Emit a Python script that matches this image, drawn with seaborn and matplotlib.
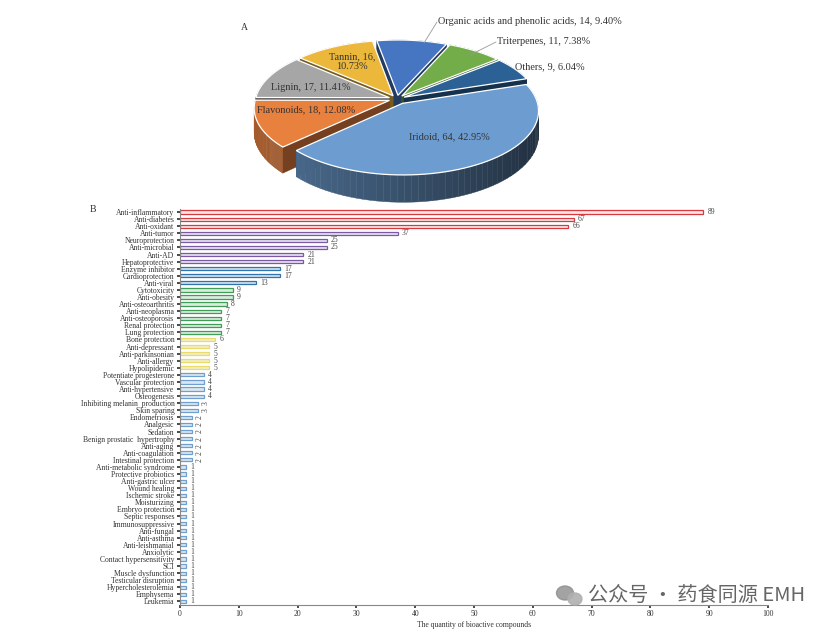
import matplotlib
import numpy as np

matplotlib.use('Agg')
import matplotlib.pyplot as plt
import seaborn as sns
from matplotlib.patches import Polygon, Ellipse

# panel A data
pie_names = ['Organic acids and phenolic acids', 'Triterpenes', 'Others', 'Iridoid',
             'Flavonoids', 'Lignin', 'Tannin']
pie_values = [14, 11, 9, 64, 18, 17, 16]
pie_pcts = [9.40, 7.38, 6.04, 42.95, 12.08, 11.41, 10.73]

# panel B data
activities = [
    'Anti-inflammatory', 'Anti-diabetes', 'Anti-oxidant', 'Anti-tumor', 'Neuroprotection',
    'Anti-microbial', 'Anti-AD', 'Hepatoprotective', 'Enzyme inhibitor', 'Cardioprotection',
    'Anti-viral', 'Cytotoxicity', 'Anti-obesity', 'Anti-osteoarthritis', 'Anti-neoplasma',
    'Anti-osteoporosis', 'Renal protection', 'Lung protection', 'Bone protection',
    'Anti-depressant', 'Anti-parkinsonian', 'Anti-allergy', 'Hypolipidemic',
    'Potentiate progesterone', 'Vascular protection', 'Anti-hypertensive', 'Osteogenesis',
    'Inhibiting melanin  production', 'Skin sparing', 'Endometriosis', 'Analgesic', 'Sedation',
    'Benign prostatic  hypertrophy', 'Anti-aging', 'Anti-coagulation', 'Intestinal protection',
    'Anti-metabolic syndrome', 'Protective probiotics', 'Anti-gastric ulcer', 'Wound healing',
    'Ischemic stroke', 'Moisturizing', 'Embryo protection', 'Septic responses',
    'Immunosuppressive', 'Anti-fungal', 'Anti-asthma', 'Anti-leishmanial', 'Anxiolytic',
    'Contact hypersensitivity', 'SCI', 'Muscle dysfunction', 'Testicular disruption',
    'Hypercholesterolemia', 'Emphysema', 'Leukemia',
]
counts = [89, 67, 66, 37, 25, 25, 21, 21, 17, 17, 13, 9, 9, 8, 7, 7, 7, 7, 6,
          5, 5, 5, 5, 4, 4, 4, 4, 3, 3, 2, 2, 2, 2, 2, 2, 2,
          1, 1, 1, 1, 1, 1, 1, 1, 1, 1, 1, 1, 1, 1, 1, 1, 1, 1, 1, 1]
x_ticks = list(range(0, 101, 10))

sns.set_theme(style='white')
plt.rcParams['font.family'] = ['Liberation Serif', 'DejaVu Serif']

fig = plt.figure(figsize=(8.24, 6.32), dpi=100)
fig.patch.set_facecolor('white')


def bar_colors(v):
    # (edge, fill)
    if v >= 60:
        return '#d63a3f', '#fbe3e3'
    if v >= 21:
        return '#7a5aa5', '#e6def2'
    if v >= 13:
        return '#2f74ad', '#cfe0f0'
    if v >= 7:
        return '#3f9e55', '#d8efdc'
    if v >= 5:
        return '#e9dc6c', '#f8f3c2'
    return '#6e9fcf', '#d6e6f5'


edges = [bar_colors(v)[0] for v in counts]
fills = [bar_colors(v)[1] for v in counts]

ax = fig.add_axes([180 / 824, 27 / 632, 588 / 824, 396.5 / 632])
sns.barplot(x=counts, y=activities, hue=activities, palette=fills, legend=False,
            width=0.45, orient='h', ax=ax)
for patch, ec in zip(ax.patches, edges):
    patch.set_edgecolor(ec)
    patch.set_linewidth(0.9)

for i, v in enumerate(counts):
    rot = 90 if v in (2, 3) else 0
    ax.text(v + 0.7, i, str(v), va='center', ha='left', fontsize=5.5, color='#444444',
            rotation=rot)

ax.set_xlim(0, 100)
ax.set_xticks(x_ticks)
ax.set_xticklabels([str(t) for t in x_ticks], fontsize=5.5, color='#333333')
ax.tick_params(axis='y', labelsize=5.5, length=2, pad=2, colors='#333333', left=True)
ax.tick_params(axis='x', length=2, pad=1.5, bottom=True, colors='#333333')
ax.set_xlabel('The quantity of bioactive compounds', fontsize=5.5, labelpad=2, color='#333333')
ax.set_ylabel('')
for side in ('top', 'right'):
    ax.spines[side].set_visible(False)
for side in ('left', 'bottom'):
    ax.spines[side].set_color('#888888')
    ax.spines[side].set_linewidth(0.8)
ax.set_facecolor('none')

fig.text(90 / 824, 1 - 210 / 632, 'B', fontsize=7, color='#333333', va='center')

# panel A: exploded 3D pie drawn in pixel space, with a bit of perspective
pax = fig.add_axes([0, 0, 1, 1])
pax.set_xlim(0, 824)
pax.set_ylim(632, 0)
pax.axis('off')

pie_colors = ['#4676c2', '#72ad4a', '#2c6196', '#6d9dd0', '#e8803e', '#a6a6a6', '#ecb83c']
explode = [0.06, 0.06, 0.06, 0.08, 0.06, 0.06, 0.06]
CX, CY, RX, RY, DEPTH, PERSP = 397, 99, 134, 62.4, 24, 0.114
start = 100.1
total = sum(pie_values)


def to_px(u, v, down=0.0):
    s = 1.0 / (1.0 + PERSP * v)
    return CX + RX * u * s, CY - RY * v * s + down * s


# dark core that shows through the gaps between exploded slices
ring = np.radians(np.linspace(0, 360, 200))
pax.add_patch(Polygon([to_px(0.96 * np.cos(a), 0.96 * np.sin(a), 6) for a in ring],
                      closed=True, facecolor='#26282c', edgecolor='none'))

slices = []
theta = start
for val, col, ex in zip(pie_values, pie_colors, explode):
    span = 360 * val / total
    a1, a2 = theta, theta - span
    theta = a2
    mid = np.radians((a1 + a2) / 2)
    du, dv = ex * np.cos(mid), ex * np.sin(mid)
    angs = np.radians(np.linspace(a1, a2, 60))
    uv = [(du, dv)] + [(du + np.cos(a), dv + np.sin(a)) for a in angs]
    slices.append((uv, angs, col))

slices.sort(key=lambda s: np.mean([to_px(*p)[1] for p in s[0]]))

for uv, angs, col in slices:
    base = np.array(matplotlib.colors.to_rgb(col))
    top = [to_px(*p) for p in uv]
    bot = [to_px(*p, down=DEPTH) for p in uv]
    quads = []
    n = len(uv)
    for k in range(n):
        j = (k + 1) % n
        quad = [top[k], top[j], bot[j], bot[k]]
        if k == 0 or k == n - 1:
            fc = tuple(base * 0.5)
        else:
            c = np.cos((angs[k - 1] + angs[k]) / 2)
            f = 0.72 - 0.42 * (c + 1) / 2
            fc = tuple(base * f)
        quads.append((np.mean([pt[1] for pt in quad]), quad, fc))
    quads.sort(key=lambda t: t[0])
    for _, quad, fc in quads:
        pax.add_patch(Polygon(quad, closed=True, facecolor=fc, edgecolor=fc, lw=0.3))
    pax.add_patch(Polygon(top, closed=True, facecolor=col, edgecolor='white', lw=0.9))

labels = [f'{nm}, {v}, {p:.2f}%' for nm, v, p in zip(pie_names, pie_values, pie_pcts)]
lab_kw = dict(fontsize=7.4, color='#333333')
pax.text(438, 22, labels[0], va='center', **lab_kw)
pax.text(497, 42, labels[1], va='center', **lab_kw)
pax.text(515, 67, labels[2], va='center', **lab_kw)
pax.text(449, 137, labels[3], ha='center', va='center', **lab_kw)
pax.text(306, 110, labels[4], ha='center', va='center', **lab_kw)
pax.text(311, 87, labels[5], ha='center', va='center', **lab_kw)
pax.text(352, 62, f'{pie_names[6]}, {pie_values[6]},\n{pie_pcts[6]:.2f}%', ha='center',
         va='center', linespacing=1.1, **lab_kw)
pax.plot([424, 437], [43, 22], color='#999999', lw=0.6)
pax.plot([470, 496], [55, 42], color='#999999', lw=0.6)
pax.text(241, 27, 'A', fontsize=7, color='#333333', va='center')

# watermark
pax.add_patch(Ellipse((565, 593), 17, 14, color='#8c8c8c', alpha=0.8))
pax.add_patch(Ellipse((575, 599), 14, 12, color='#b0b0b0', alpha=0.9))
pax.text(588, 595, '公众号 · 药食同源 EMH', fontsize=14.5, color='#555555', va='center',
         family=['Noto Sans CJK SC', 'DejaVu Sans'], alpha=0.9)

fig.savefig('out.png', dpi=100)
